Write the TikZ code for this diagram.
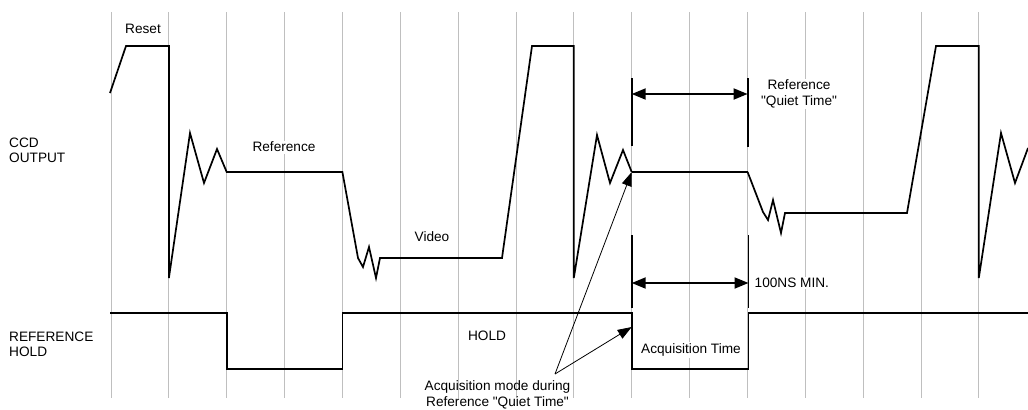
\documentclass[tikz,border=0pt]{standalone}
\usepackage{fontspec}
\setmainfont{Liberation Sans}
\usetikzlibrary{arrows.meta}
\tikzset{
  gridline/.style={draw=black!25, line width=0.8bp},
  signal/.style={draw=black, line width=1.7bp, line join=miter},
  thicksig/.style={draw=black, line width=2.8bp},
  dimbar/.style={draw=black, line width=1.9bp},
  dimarrow/.style={draw=black, line width=1.9bp, {Triangle[length=14bp,width=11bp]}-{Triangle[length=14bp,width=11bp]}},
  annarrow/.style={draw=black, line width=0.8bp, -{Triangle[length=14bp,width=10bp]}},
  lbl/.style={font=\fontsize{13.7}{15.5}\selectfont, inner sep=1.5bp, fill=white, align=center},
  lbll/.style={font=\fontsize{13.7}{15}\selectfont, inner sep=0bp, align=left},
}
\begin{document}
\begin{tikzpicture}[x=1bp,y=-1bp]
\useasboundingbox (0,0) rectangle (1028,409);
% grid
\foreach \k in {0,...,15} {
  \draw[gridline] ({111+57.85*\k},12) -- ({111+57.85*\k},398);
}
% CCD output signal
\draw[signal] (110,93) -- (126,46) -- (168.9,46) -- (168.9,278) -- (190,133) -- (204,183) -- (217,149) -- (226.7,172)
  -- (342.4,172) -- (358,258) -- (363,267) -- (369,247) -- (376,278) -- (380,258) -- (502,258)
  -- (532,46) -- (573.8,46) -- (573.8,278) -- (597,135) -- (610,183) -- (623,150) -- (631.7,172);
\draw[thicksig] (631.7,172) -- (747.6,172);
\draw[signal] (747.6,172) -- (763,212) -- (768,220) -- (773,200) -- (781,233) -- (785,213) -- (907,213)
  -- (936,46) -- (978.8,46) -- (978.8,278) -- (1001,133) -- (1015,183) -- (1028,148);
% reference hold signal
\draw[signal] (110,313) -- (227,313) -- (227,369) -- (342.4,369) -- (342.4,313) -- (631.7,313) -- (631.7,369)
  -- (748.5,369) -- (748.5,313) -- (1028,313);
% dimension lines
\coordinate (qa) at (631.7,94);
\coordinate (qb) at (747.6,94);
\coordinate (ma) at (631.7,283);
\coordinate (mb) at (748.5,283);
\draw[dimbar] (631.7,78) -- (631.7,146);
\draw[dimbar] (747.6,78) -- (747.6,147);
\draw[dimbar] (631.7,235) -- (631.7,308);
\draw[dimbar] (748.5,235) -- (748.5,308);
\draw[dimarrow] (qa) -- (qb);
\draw[dimarrow] (ma) -- (mb);
% labels
\node[lbl] (reset) at (143,29) {Reset};
\node[lbl] (ref) at (284,147) {Reference};
\node[lbl] (video) at (432,237) {Video};
\node[lbl] (quiet) at (799,94) {Reference\\\textquotedbl Quiet Time\textquotedbl};
\node[lbl, anchor=west] (min) at (753,283) {100NS MIN.};
\node[lbl] (hold) at (487,336) {HOLD};
\node[lbl] (acq) at (691,350) {Acquisition Time};
\node[lbll, anchor=west] (ccd) at (9,150) {CCD\\OUTPUT};
\node[lbll, anchor=west] (refhold) at (9,344.5) {REFERENCE\\HOLD};
\node[lbl, fill=none] (mode) at (497.5,395) {Acquisition mode during\\Reference \textquotedbl Quiet Time\textquotedbl};
% annotation arrows
\coordinate (ann) at (555,374);
\coordinate (t1) at (631.7,172);
\coordinate (t2) at (631.7,327);
\draw[annarrow] (ann) -- (t1);
\draw[annarrow] (ann) -- (t2);
\end{tikzpicture}
\end{document}
